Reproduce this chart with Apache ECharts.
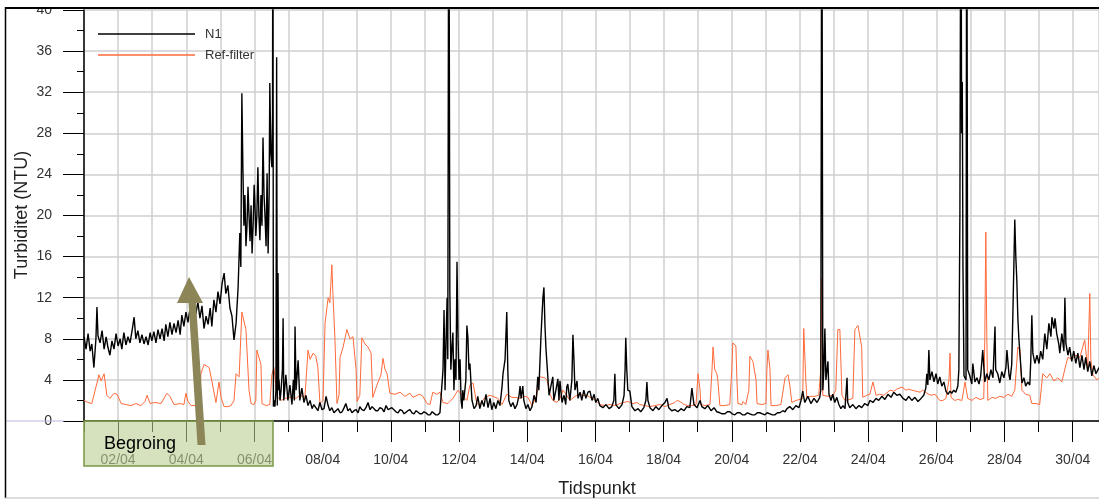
<!DOCTYPE html>
<html>
<head>
<meta charset="utf-8">
<script src="https://cdn.jsdelivr.net/npm/echarts@6/dist/echarts.min.js"></script>
<style>
html,body{margin:0;padding:0;background:#fff;}
#chart{width:1099px;height:500px;}
</style>
</head>
<body>
<div id="chart"></div>
<script>
// Time in days since 01/04 00:00, value in NTU
const n1Series = [
[0.00,8.2],[0.06,7.0],[0.12,8.5],[0.18,6.8],[0.23,7.5],[0.29,5.2],[0.35,8.0],[0.38,11.1],[0.41,8.3],[0.47,7.6],[0.53,8.8],[0.59,7.0],[0.65,8.2],[0.70,7.2],[0.76,6.4],[0.82,7.8],[0.88,7.0],[0.94,8.5],[1.00,7.3],[1.06,8.0],[1.11,7.0],[1.17,8.6],[1.23,7.4],[1.29,8.2],[1.35,7.6],[1.41,8.8],[1.47,10.1],[1.52,8.0],[1.58,8.8],[1.64,7.6],[1.70,8.4],[1.76,7.5],[1.82,8.2],[1.88,7.4],[1.94,8.6],[1.99,7.8],[2.05,8.7],[2.11,7.6],[2.17,8.9],[2.23,8.0],[2.29,9.0],[2.35,7.8],[2.40,9.4],[2.46,8.2],[2.52,9.6],[2.58,8.4],[2.64,9.5],[2.70,8.6],[2.76,9.8],[2.82,8.4],[2.87,10.3],[2.93,9.2],[2.99,10.6],[3.05,9.6],[3.11,11.0],[3.17,10.2],[3.23,11.8],[3.28,10.4],[3.34,11.6],[3.40,10.0],[3.46,11.2],[3.52,9.0],[3.58,10.2],[3.64,9.4],[3.70,11.0],[3.75,9.2],[3.81,11.8],[3.87,10.6],[3.93,12.6],[3.99,11.4],[4.05,13.4],[4.11,14.4],[4.16,12.4],[4.22,13.2],[4.28,11.0],[4.34,10.2],[4.40,7.9],[4.46,9.5],[4.52,13.0],
[4.57,18.3],[4.60,15.0],[4.63,31.9],[4.66,24.7],[4.69,19.0],[4.72,22.0],[4.75,17.0],[4.78,18.9],[4.81,22.8],[4.84,20.0],[4.87,17.5],[4.90,21.0],[4.93,16.3],[4.96,19.0],[4.99,23.0],[5.01,21.5],[5.04,18.0],[5.07,20.0],[5.10,24.7],[5.13,20.0],[5.16,17.6],[5.19,22.0],[5.22,19.0],[5.25,27.6],[5.28,22.0],[5.31,19.9],[5.34,17.0],[5.37,24.1],[5.40,16.3],[5.43,22.0],[5.45,32.9],[5.48,26.0],[5.51,24.7],[5.53,30.0],[5.54,60],[5.555,1.4],[5.57,2.0],[5.60,1.4],[5.63,3.0],[5.65,35.4],[5.67,1.5],[5.69,14.4],[5.71,3.0],[5.72,4.0],[5.75,2.0],[5.78,3.0],[5.82,5.0],[5.84,10.0],[5.86,2.0],[5.92,4.5],[5.98,2.0],[6.04,3.5],[6.10,1.6],[6.14,4.0],[6.17,2.0],[6.19,9.2],[6.22,3.0],[6.28,5.9],[6.33,2.0],[6.39,3.2],[6.45,1.8],[6.51,2.5],[6.57,1.5],[6.63,2.0],[6.69,1.2],[6.74,1.6],
[6.80,1.3],[6.86,1.0],[6.92,1.8],[6.98,1.1],[7.04,1.2],[7.10,2.4],[7.16,1.5],[7.21,1.0],[7.27,1.3],[7.33,0.8],[7.39,1.0],[7.45,1.2],[7.51,0.8],[7.57,0.9],[7.63,1.3],[7.68,1.7],[7.74,1.0],[7.80,1.2],[7.86,0.8],[7.92,1.0],[7.98,1.1],[8.04,0.8],[8.09,1.4],[8.15,1.1],[8.21,1.0],[8.27,1.3],[8.33,1.8],[8.39,1.1],[8.45,1.4],[8.50,1.3],[8.56,1.0],[8.62,1.0],[8.68,1.3],[8.74,1.2],[8.80,0.9],[8.86,1.5],[8.92,1.1],[8.97,1.0],[9.03,1.3],[9.09,1.1],[9.15,0.9],[9.21,0.8],[9.27,1.1],[9.33,1.0],[9.39,0.7],[9.44,0.8],[9.50,1.0],[9.56,1.1],[9.62,0.8],[9.68,0.7],[9.74,1.0],[9.79,0.9],[9.85,0.7],[9.91,0.7],[9.97,0.9],[10.03,0.8],[10.09,0.6],[10.15,0.6],[10.21,0.9],[10.26,0.8],[10.32,0.6],[10.38,0.6],[10.44,0.8],[10.47,0.9],
[10.53,5.0],[10.56,10.8],[10.59,3.0],[10.62,8.0],[10.65,12.0],[10.67,6.0],[10.70,60],[10.73,12.7],[10.76,5.0],[10.79,7.0],[10.82,8.6],[10.85,3.0],[10.88,6.0],[10.91,4.0],[10.94,15.5],[10.97,8.0],[11.00,4.0],[11.03,6.0],[11.06,2.0],[11.09,1.2],[11.11,3.0],[11.14,2.0],[11.20,4.0],[11.23,9.3],[11.26,8.1],[11.29,5.0],[11.32,5.6],[11.35,3.7],[11.38,2.0],[11.44,1.2],[11.50,1.5],[11.55,2.4],[11.61,1.2],[11.67,2.0],[11.73,1.4],[11.79,2.6],[11.85,1.3],[11.91,2.2],[11.96,1.1],[12.02,1.8],[12.08,1.2],[12.14,2.0],[12.20,1.5],[12.26,3.3],[12.29,4.6],[12.35,6.0],[12.40,10.6],[12.43,5.0],[12.46,2.0],[12.52,1.4],[12.58,1.8],[12.64,1.2],[12.70,1.6],[12.76,2.5],[12.79,3.4],[12.82,2.2],[12.87,3.4],[12.90,2.0],[12.96,1.2],[13.02,1.6],[13.08,1.0],[13.14,1.4],[13.20,2.5],[13.26,1.8],[13.31,4.3],[13.34,3.0],[13.40,8.0],[13.43,10.1],[13.46,12.0],[13.49,13.0],[13.52,9.3],[13.55,7.0],[13.58,7.0],[13.61,4.0],[13.64,2.5],[13.70,3.5],[13.75,4.3],[13.78,2.0],[13.84,3.0],[13.90,4.1],[13.93,2.0],[13.96,3.9],[14.02,1.8],[14.08,2.5],[14.13,1.6],[14.16,3.3],[14.19,3.6],[14.25,2.0],[14.31,4.0],[14.34,8.4],[14.37,6.0],[14.40,3.0],[14.46,3.9],[14.49,2.2],[14.55,2.8],[14.60,2.0],[14.66,3.0],[14.72,2.2],[14.78,2.8],[14.84,2.9],[14.90,2.0],[14.96,2.6],[15.01,1.8],[15.07,2.2],[15.13,1.5],[15.22,1.3],[15.31,1.6],[15.40,1.2],[15.48,1.4],[15.54,2.0],[15.57,4.6],[15.60,1.6],[15.69,1.2],[15.78,1.6],[15.84,2.5],[15.87,5.0],[15.89,8.1],[15.92,5.0],[15.95,3.0],[16.01,2.9],[16.07,1.4],[16.16,1.0],[16.25,1.2],[16.33,0.9],[16.42,1.3],[16.48,2.0],[16.51,3.8],[16.54,2.0],[16.60,1.3],[16.69,1.0],[16.77,1.4],[16.86,1.1],[16.95,1.5],[17.04,1.8],[17.10,2.2],[17.15,1.3],[17.24,1.0],[17.33,1.1],[17.42,0.9],[17.51,1.2],[17.60,1.0],[17.68,1.4],[17.77,1.3],[17.83,3.2],[17.89,1.6],[17.98,1.3],[18.07,2.0],[18.12,1.4],[18.21,1.2],[18.30,1.5],[18.39,1.0],[18.48,1.3],[18.56,0.9],
[18.65,0.8],[18.72,0.7],[18.80,0.7],[18.87,0.9],[18.94,0.9],[19.01,0.7],[19.09,0.6],[19.16,0.8],[19.24,0.8],[19.31,0.6],[19.38,0.6],[19.46,0.8],[19.53,0.7],[19.60,0.6],[19.68,0.6],[19.75,0.8],[19.82,0.8],[19.90,0.7],[19.97,0.6],[20.04,0.8],[20.12,0.7],[20.19,0.6],[20.26,0.6],[20.34,0.8],[20.41,0.8],[20.50,1.0],[20.56,0.9],[20.62,1.2],[20.70,1.4],[20.79,1.1],[20.88,1.5],[20.97,1.3],[21.03,2.0],[21.08,2.9],[21.14,1.8],[21.23,2.4],[21.32,1.7],[21.41,2.2],[21.50,1.8],[21.58,2.3],[21.61,3.0],[21.64,60],[21.67,3.0],[21.70,5.0],[21.73,9.0],[21.76,4.0],[21.82,5.8],[21.85,2.6],[21.91,2.0],[21.96,2.6],[22.02,1.8],[22.08,2.3],[22.14,1.6],[22.20,1.2],[22.26,1.5],[22.32,1.2],[22.38,4.2],[22.40,1.8],[22.46,1.3],[22.55,1.6],[22.64,1.2],[22.73,1.5],[22.81,1.3],[22.90,1.7],[22.99,1.5],[23.05,2.0],[23.14,1.8],[23.23,2.2],[23.31,2.0],[23.40,2.4],[23.49,2.1],[23.58,2.6],[23.67,2.3],[23.75,2.8],[23.84,2.5],[23.93,2.6],[24.02,2.2],[24.11,2.0],[24.19,2.4],[24.28,2.0],[24.37,2.3],[24.46,1.9],[24.55,2.2],[24.63,2.5],[24.69,3.2],[24.72,4.6],[24.75,3.5],[24.78,6.9],[24.81,4.0],[24.87,4.8],[24.93,3.8],[24.99,4.6],[25.04,3.6],[25.10,4.3],[25.16,3.4],[25.22,3.8],[25.28,2.9],[25.34,2.6],[25.40,2.9],[25.45,2.7],[25.51,3.0],[25.57,2.8],[25.63,3.4],[25.66,5.0],[25.69,20],[25.72,60],[25.74,28],[25.76,33],[25.78,15],[25.81,4.4],[25.87,4.0],[25.89,60],[25.92,5.0],[25.98,4.4],[26.04,3.6],[26.07,5.6],[26.13,3.8],[26.19,4.2],[26.25,3.6],[26.30,4.4],[26.36,6.9],[26.42,3.8],[26.48,4.6],[26.54,4.0],[26.60,5.0],[26.66,4.2],[26.72,9.2],[26.74,5.0],[26.80,4.6],[26.86,3.7],[26.92,4.8],[26.98,4.2],[27.04,5.2],[27.07,6.9],[27.13,4.5],[27.16,4.0],[27.21,5.5],[27.24,9.8],[27.30,19.6],[27.33,16.0],[27.36,13.7],[27.39,10.0],[27.42,8.0],[27.45,6.6],[27.51,3.7],[27.57,4.2],[27.62,3.4],[27.68,3.8],[27.74,3.5],[27.77,6.0],[27.80,10.3],[27.83,6.6],[27.89,5.6],[27.95,6.4],[28.01,5.6],[28.06,6.8],[28.12,6.0],[28.18,8.5],[28.24,7.0],[28.30,9.5],[28.36,8.2],[28.39,10.1],[28.45,9.0],[28.48,10.0],[28.53,8.5],[28.59,7.5],[28.62,6.6],[28.68,8.5],[28.74,6.8],[28.77,12.0],[28.80,7.5],[28.86,6.4],[28.91,7.2],[28.97,5.8],[29.03,6.8],[29.09,5.6],[29.15,6.6],[29.21,5.2],[29.27,6.4],[29.33,5.0],[29.38,6.2],[29.44,4.8],[29.50,5.8],[29.56,4.4],[29.62,5.4],[29.68,4.6],[29.77,5.2]
];

const refSeries = [
[0.00,2.0],[0.12,1.8],[0.23,1.7],[0.35,3.3],[0.44,4.5],[0.50,3.9],[0.59,4.6],[0.67,2.5],[0.76,2.2],[0.88,2.7],[0.97,2.6],[1.09,1.7],[1.23,1.6],[1.38,1.5],[1.52,1.7],[1.67,1.5],[1.79,1.9],[1.85,2.5],[1.94,1.7],[2.08,1.8],[2.26,1.7],[2.38,2.4],[2.43,2.7],[2.52,2.4],[2.64,1.6],[2.82,1.7],[2.93,1.6],[2.99,2.7],[3.05,1.9],[3.14,1.5],[3.31,1.5],[3.40,2.5],[3.43,4.6],[3.52,5.5],[3.67,5.2],[3.75,3.9],[3.87,1.8],[3.96,3.8],[4.02,2.3],[4.11,1.4],[4.22,1.4],[4.31,1.5],[4.40,2.0],[4.46,4.6],[4.55,4.3],[4.63,10.6],[4.75,8.9],[4.78,6.9],[4.84,3.0],[4.90,1.7],[4.99,1.6],[5.04,2.0],[5.07,6.9],[5.19,5.5],[5.22,1.7],[5.34,1.5],[5.45,1.6],[5.51,4.5],[5.57,5.2],[5.66,2.4],[5.78,2.0],[5.89,2.2],[6.04,2.3],[6.22,2.2],[6.33,2.5],[6.48,2.3],[6.57,6.9],[6.63,6.0],[6.72,6.6],[6.80,6.3],[6.86,5.2],[6.92,1.7],[7.01,2.0],[7.07,9.5],[7.16,12.0],[7.21,11.5],[7.27,15.2],[7.30,12.4],[7.36,8.0],[7.42,1.7],[7.48,2.5],[7.51,6.2],[7.60,7.2],[7.71,8.9],[7.80,8.0],[7.89,8.2],[7.98,5.0],[8.01,1.9],[8.09,2.5],[8.15,8.1],[8.24,7.5],[8.33,7.2],[8.42,6.6],[8.47,2.3],[8.56,3.2],[8.65,4.0],[8.71,4.5],[8.77,6.1],[8.83,5.0],[8.89,4.6],[8.97,2.7],[9.12,2.6],[9.27,2.8],[9.41,2.4],[9.56,2.7],[9.65,2.3],[9.77,2.5],[9.85,2.6],[9.94,2.4],[10.06,1.7],[10.15,1.6],[10.23,2.8],[10.35,2.6],[10.44,2.8],[10.53,1.8],[10.67,1.7],[10.82,2.2],[10.97,3.0],[11.11,2.4],[11.23,2.0],[11.32,3.5],[11.41,3.7],[11.52,1.7],[11.61,1.6],[11.76,2.3],[11.91,2.5],[11.99,2.4],[12.14,2.2],[12.26,1.6],[12.40,2.6],[12.55,2.3],[12.67,2.3],[12.79,2.2],[12.93,2.4],[13.02,2.3],[13.14,1.5],[13.28,2.5],[13.37,4.3],[13.52,4.2],[13.58,4.0],[13.67,2.6],[13.75,2.0],[13.87,1.8],[13.96,2.2],[14.05,3.0],[14.16,2.5],[14.25,2.0],[14.40,2.4],[14.55,2.6],[14.63,2.5],[14.75,2.5],[14.90,2.2],[15.01,2.0],[15.13,1.6],[15.28,1.5],[15.43,1.6],[15.57,1.5],[15.72,1.7],[15.84,1.8],[15.95,1.9],[16.10,1.7],[16.22,1.8],[16.30,1.6],[16.45,1.5],[16.60,1.4],[16.74,1.5],[16.89,1.6],[17.04,1.4],[17.18,1.6],[17.33,1.8],[17.39,2.0],[17.48,1.9],[17.60,1.6],[17.71,1.5],[17.83,1.5],[17.95,1.6],[18.01,4.6],[18.07,3.0],[18.09,1.6],[18.21,1.5],[18.36,1.6],[18.42,5.0],[18.45,7.2],[18.50,5.0],[18.56,4.6],[18.59,4.0],[18.65,1.5],[18.80,1.5],[18.94,1.6],[19.00,5.0],[19.03,7.6],[19.12,7.3],[19.15,4.0],[19.18,1.7],[19.30,1.6],[19.33,1.9],[19.41,1.6],[19.50,3.0],[19.53,6.3],[19.62,5.8],[19.71,4.0],[19.74,1.7],[19.88,1.6],[20.00,1.7],[20.03,5.0],[20.06,6.9],[20.12,5.0],[20.15,1.5],[20.29,1.5],[20.44,1.6],[20.53,3.5],[20.56,4.2],[20.65,4.5],[20.70,3.5],[20.76,1.8],[20.88,2.0],[21.00,2.1],[21.08,2.2],[21.11,9.0],[21.17,4.0],[21.20,2.3],[21.32,2.4],[21.44,2.4],[21.55,2.5],[21.61,5.0],[21.64,13.9],[21.67,2.5],[21.82,2.4],[21.96,2.5],[22.05,3.0],[22.11,8.9],[22.17,8.9],[22.23,2.5],[22.32,2.0],[22.46,2.1],[22.55,2.2],[22.61,8.9],[22.70,9.3],[22.81,7.2],[22.84,2.3],[22.96,2.5],[23.05,2.6],[23.14,3.8],[23.23,2.5],[23.34,2.6],[23.46,2.5],[23.64,3.0],[23.75,2.9],[23.84,3.1],[23.99,3.3],[24.11,3.0],[24.19,3.1],[24.28,3.0],[24.40,2.9],[24.52,2.8],[24.60,3.0],[24.72,2.7],[24.84,2.5],[24.96,2.6],[25.10,2.0],[25.19,2.0],[25.28,2.2],[25.37,4.0],[25.40,6.6],[25.43,2.3],[25.54,2.0],[25.63,2.1],[25.75,2.0],[25.84,3.8],[25.92,2.2],[26.04,2.0],[26.16,2.3],[26.28,2.1],[26.39,2.2],[26.42,8.0],[26.45,18.4],[26.48,8.0],[26.51,2.0],[26.63,2.3],[26.74,2.2],[26.86,2.4],[26.98,2.3],[27.10,2.6],[27.21,2.4],[27.30,3.0],[27.39,7.2],[27.45,6.9],[27.51,3.0],[27.62,2.6],[27.74,2.5],[27.80,1.7],[27.92,1.7],[28.03,1.6],[28.12,4.6],[28.24,4.2],[28.33,4.6],[28.45,3.9],[28.56,4.2],[28.68,3.8],[28.80,5.5],[28.86,6.2],[28.97,6.0],[29.09,6.4],[29.21,6.2],[29.35,7.9],[29.44,5.0],[29.50,12.4],[29.53,6.0],[29.59,4.5],[29.71,4.0],[29.77,4.2]
];

const seriesNames = ['N1', 'Ref-filter'];
const labelDays = [1,3,5,7,9,11,13,15,17,19,21,23,25,27,29]; // 02/04 ... 30/04
const yTitle = 'Turbiditet (NTU)';
const xTitle = 'Tidspunkt';
const noteText = 'Begroing';

const FONT = "'Liberation Sans', Arial, sans-serif";
const chart = echarts.init(document.getElementById('chart'));

function fmtDay(v) {
  const d = Math.round(v) + 1;
  return (d < 10 ? '0' + d : '' + d) + '/04';
}

const option = {
  animation: false,
  backgroundColor: '#fff',
  grid: { left: 84, top: 10, right: 0, bottom: 79, containLabel: false },
  legend: {
    data: seriesNames,
    orient: 'vertical',
    left: 98, top: 27,
    padding: 0,
    itemGap: 7,
    icon: 'rect',
    itemWidth: 97, itemHeight: 1.5,
    textStyle: { fontFamily: FONT, fontSize: 13, color: '#333', padding: [0,0,0,5], lineHeight: 14 }
  },
  xAxis: [
    {
      type: 'value', min: 0, max: 29.77, interval: 1,
      axisLine: { show: true, onZero: false, lineStyle: { color: '#000', width: 1.5 } },
      axisTick: { show: true, length: 11, lineStyle: { color: '#000', width: 1 } },
      axisLabel: { show: false },
      splitLine: { show: true, lineStyle: { color: '#cfcfcf', width: 1.5 } }
    },
    {
      type: 'value', min: 0, max: 29.77, interval: 1, position: 'bottom',
      axisLine: { show: false },
      axisTick: { show: true, length: 21, customValues: labelDays, lineStyle: { color: '#000', width: 1 } },
      axisLabel: {
        show: true, customValues: labelDays, margin: 32,
        fontFamily: FONT, fontSize: 14, color: '#333',
        formatter: fmtDay
      },
      splitLine: { show: false }
    }
  ],
  yAxis: {
    type: 'value', min: 0, max: 40, interval: 4,
    axisLine: { show: true, lineStyle: { color: '#000', width: 1.5 } },
    axisTick: { show: true, length: 21, lineStyle: { color: '#000', width: 1 } },
    minorTick: { show: true, splitNumber: 2, length: 7, lineStyle: { color: '#000', width: 1 } },
    axisLabel: { fontFamily: FONT, fontSize: 14, color: '#333', margin: 32 },
    splitLine: { show: true, lineStyle: { color: '#cfcfcf', width: 1.5 } },
    minorSplitLine: { show: false }
  },
  series: [
    {
      name: seriesNames[0], type: 'line', xAxisIndex: 0, data: n1Series,
      showSymbol: false, symbol: 'none', clip: true, z: 5,
      lineStyle: { color: '#000', width: 1.4 }, itemStyle: { color: '#000' }
    },
    {
      name: seriesNames[1], type: 'line', xAxisIndex: 0, data: refSeries,
      showSymbol: false, symbol: 'none', clip: true, z: 4,
      lineStyle: { color: '#ff6a3a', width: 1 }, itemStyle: { color: '#ff6a3a' }
    }
  ],
  graphic: [
    { type: 'rect', z: 100, shape: { x: 0, y: 0, width: 1099, height: 7 }, style: { fill: '#fff' } },
    { type: 'line', z: 101, shape: { x1: 5, y1: 8, x2: 1099, y2: 8 }, style: { stroke: '#000', lineWidth: 2 } },
    { type: 'line', z: 101, shape: { x1: 5.5, y1: 7, x2: 5.5, y2: 498 }, style: { stroke: '#000', lineWidth: 1.5 } },
    { type: 'line', z: 101, shape: { x1: 5, y1: 498, x2: 1099, y2: 498 }, style: { stroke: '#bbb', lineWidth: 1 } },
    { type: 'line', z: 1, shape: { x1: 6, y1: 421, x2: 64, y2: 421 }, style: { stroke: '#b8b8e0', lineWidth: 1 } },
    { type: 'text', z: 102, x: 22, y: 215, rotation: Math.PI / 2,
      style: { text: yTitle, fontFamily: FONT, fontSize: 18, fill: '#222', textAlign: 'center', verticalAlign: 'middle' } },
    { type: 'rect', z: 100, shape: { x: 84, y: 421, width: 189, height: 45 },
      style: { fill: 'rgba(186,206,146,0.6)', stroke: '#7a9646', lineWidth: 1.5 } },
    { type: 'text', z: 102, x: 104, y: 444,
      style: { text: noteText, fontFamily: FONT, fontSize: 18, fill: '#000', verticalAlign: 'middle', textAlign: 'left' } },
    { type: 'polygon', z: 103,
      shape: { points: [[177,303],[189,277],[203,303],[196,303],[205.5,445],[197.5,445],[188.5,303]] },
      style: { fill: '#8b8557' } },
    { type: 'text', z: 102, x: 597, y: 489,
      style: { text: xTitle, fontFamily: FONT, fontSize: 18, fill: '#222', textAlign: 'center', verticalAlign: 'middle' } }
  ]
};
chart.setOption(option);
</script>
</body>
</html>
